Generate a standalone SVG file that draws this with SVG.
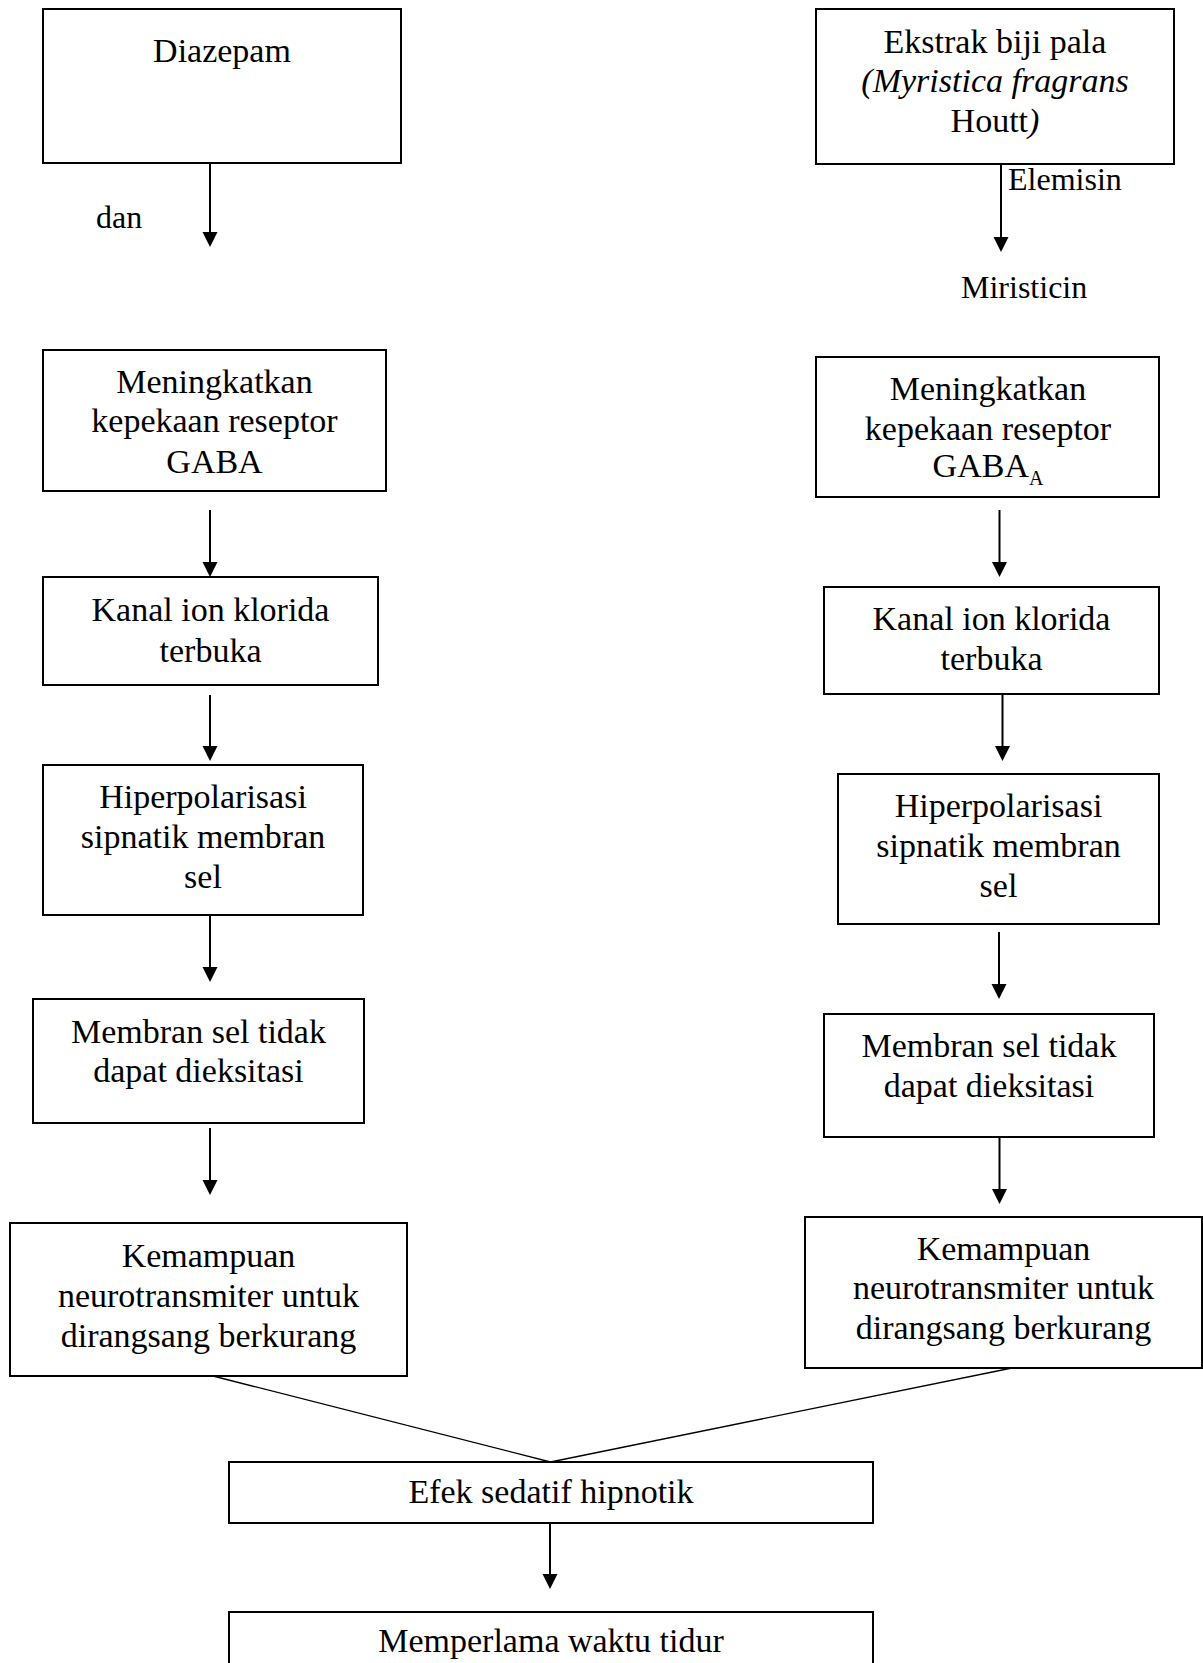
<svg xmlns="http://www.w3.org/2000/svg" width="1203" height="1663" viewBox="0 0 1203 1663">
<style>
.box{fill:#fff;stroke:#000;stroke-width:2}
.t{font-family:"Liberation Serif","Times New Roman",serif;font-size:34px;fill:#000;text-anchor:middle}
.lbl{font-family:"Liberation Serif","Times New Roman",serif;font-size:32px;fill:#000}
.ln{stroke:#000;stroke-width:2;fill:none}
.dg{stroke:#000;stroke-width:1.3;fill:none}
</style>
<defs>
<marker id="ah" markerWidth="8" markerHeight="8" viewBox="0 0 8 8" refX="8" refY="4" orient="auto" markerUnits="userSpaceOnUse">
<path d="M0,0 L8,4 L0,8 Z" fill="#000"/>
</marker>
</defs>
<rect width="1203" height="1663" fill="#fff"/>

<g id="connectors">
<g id="arrows-left">
<line class="ln" x1="210" y1="163" x2="210" y2="233"/><polygon points="202.5,232 217.5,232 210,247" fill="#000"/>
<line class="ln" x1="210" y1="510" x2="210" y2="563"/><polygon points="202.5,562 217.5,562 210,577" fill="#000"/>
<line class="ln" x1="210" y1="695" x2="210" y2="747"/><polygon points="202.5,746 217.5,746 210,761" fill="#000"/>
<line class="ln" x1="210" y1="915" x2="210" y2="968"/><polygon points="202.5,967 217.5,967 210,982" fill="#000"/>
<line class="ln" x1="210" y1="1128" x2="210" y2="1181"/><polygon points="202.5,1180 217.5,1180 210,1195" fill="#000"/>
</g>
<g id="arrows-right">
<line class="ln" x1="1001" y1="164" x2="1001" y2="238"/><polygon points="993.5,237 1008.5,237 1001,252" fill="#000"/>
<line class="ln" x1="999.5" y1="510" x2="999.5" y2="563"/><polygon points="992,562 1007,562 999.5,577" fill="#000"/>
<line class="ln" x1="1002.5" y1="694" x2="1002.5" y2="747"/><polygon points="995,746 1010,746 1002.5,761" fill="#000"/>
<line class="ln" x1="999" y1="932" x2="999" y2="985"/><polygon points="991.5,984 1006.5,984 999,999" fill="#000"/>
<line class="ln" x1="999.5" y1="1137" x2="999.5" y2="1190"/><polygon points="992,1189 1007,1189 999.5,1204" fill="#000"/>
</g>
<line class="dg" x1="213" y1="1376" x2="550.5" y2="1462"/>
<line class="dg" x1="1012" y1="1368" x2="550.5" y2="1462"/>
<line class="ln" x1="550" y1="1523" x2="550" y2="1575"/><polygon points="542.5,1574 557.5,1574 550,1589" fill="#000"/>
</g>

<g id="label-dan"><text class="lbl" x="96" y="228">dan</text></g>
<g id="label-elemisin"><text class="lbl" x="1008" y="190">Elemisin</text></g>
<g id="label-miristicin"><text class="lbl" x="961" y="298">Miristicin</text></g>

<g id="diazepam">
<rect class="box" x="43" y="9" width="358" height="154"/>
<text class="t" x="222" y="62">Diazepam</text>
</g>
<g id="ekstrak">
<rect class="box" x="816" y="9" width="358" height="155"/>
<text class="t" x="995" y="53">Ekstrak biji pala</text>
<text class="t" x="995" y="92" font-style="italic">(Myristica fragrans</text>
<text class="t" x="995" y="132">Houtt<tspan font-style="italic">)</tspan></text>
</g>

<g id="gaba-left">
<rect class="box" x="43" y="350" width="343" height="141"/>
<text class="t" x="214.5" y="393">Meningkatkan</text>
<text class="t" x="214.5" y="432">kepekaan reseptor</text>
<text class="t" x="214.5" y="473">GABA</text>
</g>
<g id="gaba-right">
<rect class="box" x="816" y="357" width="343" height="140"/>
<text class="t" x="988" y="400">Meningkatkan</text>
<text class="t" x="988" y="440">kepekaan reseptor</text>
<text class="t" x="988" y="477">GABA<tspan font-size="20" dy="8">A</tspan></text>
</g>

<g id="kanal-left">
<rect class="box" x="43" y="577" width="335" height="108"/>
<text class="t" x="210.5" y="621">Kanal ion klorida</text>
<text class="t" x="210.5" y="662">terbuka</text>
</g>
<g id="kanal-right">
<rect class="box" x="824" y="587" width="335" height="107"/>
<text class="t" x="991.5" y="630">Kanal ion klorida</text>
<text class="t" x="991.5" y="670">terbuka</text>
</g>

<g id="hiper-left">
<rect class="box" x="43" y="765" width="320" height="150"/>
<text class="t" x="203" y="808">Hiperpolarisasi</text>
<text class="t" x="203" y="848">sipnatik membran</text>
<text class="t" x="203" y="888">sel</text>
</g>
<g id="hiper-right">
<rect class="box" x="838" y="774" width="321" height="150"/>
<text class="t" x="998.5" y="817">Hiperpolarisasi</text>
<text class="t" x="998.5" y="857">sipnatik membran</text>
<text class="t" x="998.5" y="897">sel</text>
</g>

<g id="membran-left">
<rect class="box" x="33" y="999" width="331" height="124"/>
<text class="t" x="198.5" y="1043">Membran sel tidak</text>
<text class="t" x="198.5" y="1082">dapat dieksitasi</text>
</g>
<g id="membran-right">
<rect class="box" x="824" y="1014" width="330" height="123"/>
<text class="t" x="989" y="1057">Membran sel tidak</text>
<text class="t" x="989" y="1097">dapat dieksitasi</text>
</g>

<g id="kemampuan-left">
<rect class="box" x="10" y="1223" width="397" height="153"/>
<text class="t" x="208.5" y="1267">Kemampuan</text>
<text class="t" x="208.5" y="1307">neurotransmiter untuk</text>
<text class="t" x="208.5" y="1347">dirangsang berkurang</text>
</g>
<g id="kemampuan-right">
<rect class="box" x="805" y="1217" width="397" height="151"/>
<text class="t" x="1003.5" y="1260">Kemampuan</text>
<text class="t" x="1003.5" y="1299">neurotransmiter untuk</text>
<text class="t" x="1003.5" y="1339">dirangsang berkurang</text>
</g>

<g id="efek">
<rect class="box" x="229" y="1462" width="644" height="61"/>
<text class="t" x="551" y="1503">Efek sedatif hipnotik</text>
</g>
<g id="memperlama">
<rect class="box" x="229" y="1612" width="644" height="80"/>
<text class="t" x="551" y="1652">Memperlama waktu tidur</text>
</g>
</svg>
